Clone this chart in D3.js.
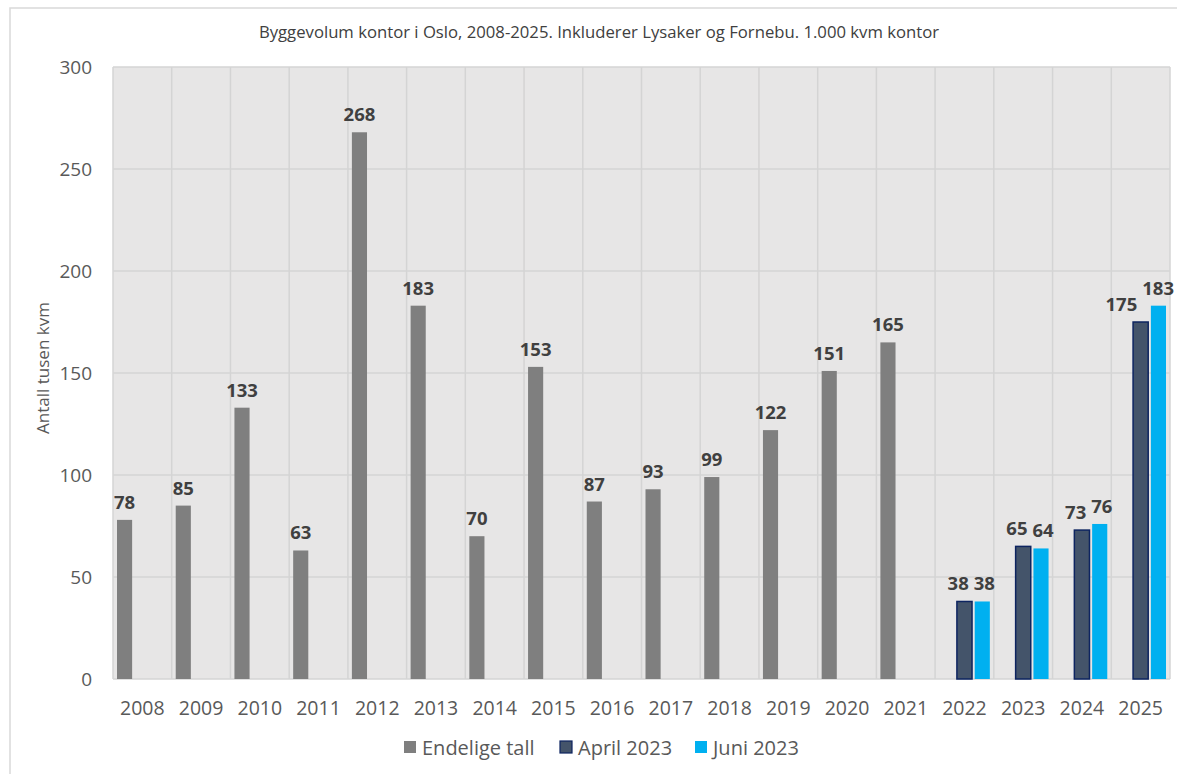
<!DOCTYPE html>
<html><head><meta charset="utf-8">
<script src="https://cdn.jsdelivr.net/npm/d3@7"></script>
<style>body{margin:0;background:#fff;}</style>
</head><body>
<svg id="c" width="1177" height="774"></svg>
<script>
const years = ["2008","2009","2010","2011","2012","2013","2014","2015","2016","2017","2018","2019","2020","2021","2022","2023","2024","2025"];
const seriesNames = ["Endelige tall","April 2023","Juni 2023"];
const endelige = [78,85,133,63,268,183,70,153,87,93,99,122,151,165,null,null,null,null];
const april2023 = [null,null,null,null,null,null,null,null,null,null,null,null,null,null,38,65,73,175];
const juni2023 = [null,null,null,null,null,null,null,null,null,null,null,null,null,null,38,64,76,183];
const yTicks = [0,50,100,150,200,250,300];
const colors = ["#7f7f7f","#44546a","#00b0f0"];
const strokes = [null,"#0d2460",null];

const W = 1177;
const svg = d3.select("#c");
const font = "'Open Sans', 'Noto Sans', sans-serif";
svg.append("rect").attr("x",10).attr("y",8).attr("width",1180).attr("height",790)
  .attr("fill","none").attr("stroke","#d9d9d9").attr("stroke-width",1.5);

const L=113,R=1170,T=67,B=679;
const x0 = d3.scaleBand().domain(years).range([L,R]).padding(0);
const bw = x0.bandwidth();
const x1 = d3.scaleBand().domain(seriesNames).range([4,bw-4]).paddingInner(0.15);
const y = d3.scaleLinear().domain([0,300]).range([B,T]);

svg.append("rect").attr("x",L).attr("y",T).attr("width",R-L).attr("height",B-T).attr("fill","#e7e6e6");
svg.append("g").selectAll("line").data(yTicks).join("line")
  .attr("x1",L).attr("x2",R).attr("y1",d=>y(d)).attr("y2",d=>y(d))
  .attr("stroke","#d4d4d4").attr("stroke-width",1.5);
svg.append("g").selectAll("line").data(d3.range(years.length+1)).join("line")
  .attr("x1",i=>L+i*bw).attr("x2",i=>L+i*bw).attr("y1",T).attr("y2",B)
  .attr("stroke","#d4d4d4").attr("stroke-width",1.5);

const data = [endelige,april2023,juni2023];
const labelG = svg.append("g");
const labels = [];
data.forEach((arr,si)=>{
  const g = svg.append("g");
  const pts = years.map((yr,i)=>({yr,i,v:arr[i]})).filter(d=>d.v!=null);
  g.selectAll("rect").data(pts).join("rect")
    .attr("x",d=>x0(d.yr)+x1(seriesNames[si]))
    .attr("width",x1.bandwidth())
    .attr("y",d=>y(d.v)).attr("height",d=>B-y(d.v))
    .attr("fill",colors[si])
    .attr("stroke",strokes[si]||"none").attr("stroke-width",1.5);
  pts.forEach(d=>{
    const t = labelG.append("text")
      .attr("x",x0(d.yr)+x1(seriesNames[si])+x1.bandwidth()/2)
      .attr("y",y(d.v)-11)
      .attr("text-anchor","middle")
      .attr("font-family",font).attr("font-weight","bold").attr("font-size",18.5)
      .attr("fill","#404040").text(d.v);
    labels.push({t,si,i:d.i});
  });
});
// keep labels inside the picture
labels.forEach(l=>{
  const bb = l.t.node().getBBox();
  if(bb.x+bb.width > W-3) l.t.attr("x", +l.t.attr("x") - (bb.x+bb.width-(W-3)));
});
// avoid overlap between paired labels: spread them apart
years.forEach((yr,i)=>{
  const a = labels.find(l=>l.i===i&&l.si===1), b = labels.find(l=>l.i===i&&l.si===2);
  if(a&&b){
    const ba=a.t.node().getBBox(), bb=b.t.node().getBBox();
    const overlap = ba.x+ba.width+5 - bb.x;
    const vo = !(ba.y+ba.height-6 < bb.y || bb.y+bb.height-6 < ba.y);
    if(overlap>0 && vo){
      const room = Math.max(0, (W-3) - (bb.x+bb.width));
      const rshift = Math.min(overlap*0.25, room);
      b.t.attr("x",+b.t.attr("x")+rshift);
      a.t.attr("x",+a.t.attr("x")-(overlap-rshift));
    }
  }
});

svg.append("g").selectAll("text").data(yTicks).join("text")
  .attr("x",92).attr("y",d=>y(d)+7).attr("text-anchor","end")
  .attr("font-family",font).attr("font-size",19).attr("fill","#595959").text(d=>d);
svg.append("g").selectAll("text").data(years).join("text")
  .attr("x",d=>x0(d)+bw/2).attr("y",715).attr("text-anchor","middle")
  .attr("font-family",font).attr("font-size",19.5).attr("fill","#595959").text(d=>d);

svg.append("text").attr("transform","translate(49,368) rotate(-90)").attr("text-anchor","middle")
  .attr("font-family",font).attr("font-size",17).attr("fill","#595959").text("Antall tusen kvm");

svg.append("text").attr("x",599).attr("y",38).attr("text-anchor","middle")
  .attr("font-family",font).attr("font-size",16.7).attr("fill","#404040")
  .text("Byggevolum kontor i Oslo, 2008-2025. Inkluderer Lysaker og Fornebu. 1.000 kvm kontor");

const legX = [404,560,695];
seriesNames.forEach((s,i)=>{
  svg.append("rect").attr("x",legX[i]).attr("y",741).attr("width",12).attr("height",12)
    .attr("fill",colors[i]).attr("stroke",strokes[i]||"none").attr("stroke-width",1.2);
  svg.append("text").attr("x",legX[i]+18).attr("y",755).attr("font-family",font).attr("font-size",20)
    .attr("fill","#595959").text(s);
});
</script>
</body></html>
